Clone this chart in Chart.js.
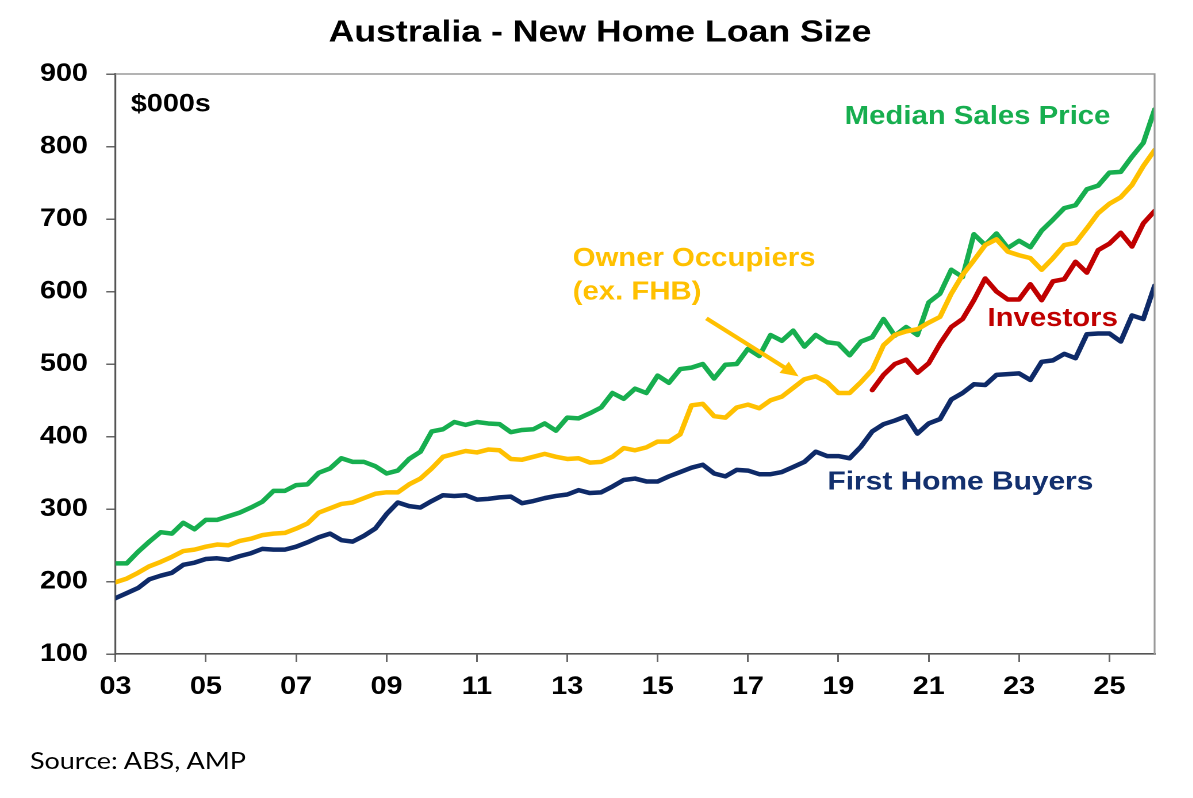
<!DOCTYPE html>
<html>
<head>
<meta charset="utf-8">
<script src="https://cdn.jsdelivr.net/npm/chart.js@4"></script>
<style>
  html, body { margin:0; padding:0; background:#fff; }
  #wrap { position:absolute; left:0; top:0; width:1037px; height:798px; transform:scaleX(1.15); transform-origin:0 0; }
  #source { position:absolute; left:26px; top:745px; font-family:Lato, "Open Sans", sans-serif; font-size:23.5px; color:#000; line-height:30px; }
</style>
</head>
<body>
<div id="wrap">
  <canvas id="c" width="1037" height="798"></canvas>
  <div id="source">Source: ABS, AMP</div>
</div>
<script>
// ---- Data (quarterly, first point = 2003 Q1) ----
const firstQuarter = 2003.0;
const medianSalesPrice = [225,225,241,255,268,266,281,272,285,285,
 290,295,302,310,325,325,333,334,350,356,
 370,365,365,359,349,353,369,379,407,410,
 420,416,420,418,417,406,409,410,418,408,
 426,425,432,440,460,452,466,460,484,474,
 493,495,500,480,499,500,521,511,540,532,
 546,524,540,530,528,512,531,537,562,539,
 551,540,585,597,630,620,679,664,680,660,
 670,661,684,699,715,719,741,746,764,765,
 786,805,851];
const ownerOccupiers = [199,204,212,221,227,234,242,244,248,251,
 250,256,259,264,266,267,273,280,295,301,
 307,309,315,321,323,323,334,342,356,372,
 376,380,378,382,381,369,368,372,376,372,
 369,370,364,365,372,384,381,385,393,393,
 403,443,445,428,426,440,444,439,450,455,
 467,479,483,475,460,460,475,492,526,540,
 545,548,557,565,597,623,643,664,672,655,
 650,646,630,646,664,667,687,708,721,730,
 747,773,795];
const firstHomeBuyers = [177,184,191,203,208,212,223,226,231,232,
 230,235,239,245,244,244,248,254,261,266,
 257,255,263,273,293,309,304,302,311,319,
 318,319,313,314,316,317,308,311,315,318,
 320,326,322,323,331,340,342,338,338,345,
 351,357,361,349,345,354,353,348,348,351,
 358,365,379,373,373,370,386,407,417,422,
 428,404,418,424,451,460,472,471,485,486,
 487,478,503,505,514,508,541,542,542,531,
 567,562,608];
const investorsFirstQuarter = 2019.75;
const investors = [464,485,500,506,488,501,528,551,562,588,618,600,589,589,610,588,614,617,641,626,657,666,681,662,694,711];

const xTickYears = [2003,2005,2007,2009,2011,2013,2015,2017,2019,2021,2023,2025];
const xTickLabels = ['03','05','07','09','11','13','15','17','19','21','23','25'];
const yTicks = [100,200,300,400,500,600,700,800,900];

const chartTitle = 'Australia - New Home Loan Size';

// ---- Build points through quarter positions ----
const toPoints = (arr, start) => arr.map((v, i) => ({ x: start + i / 4, y: v }));

const COL = { green:'#17AE4F', yellow:'#FFC000', red:'#C00000', navy:'#0E2A68' };
const FONT = '"Liberation Sans", Arial, sans-serif';

const notes = [
  { text:'$000s', x:2003.34, y:858, color:'#000', size:25 },
  { text:'Median Sales Price', x:2019.14, y:841, color:COL.green, size:25.5 },
  { text:'Owner Occupiers', x:2013.12, y:645, color:COL.yellow, size:25.5 },
  { text:'(ex. FHB)', x:2013.12, y:599, color:COL.yellow, size:25.5 },
  { text:'Investors', x:2022.30, y:562, color:COL.red, size:25.5 },
  { text:'First Home Buyers', x:2018.76, y:337, color:'#13306E', size:26 }
];
const arrow = { x1:2016.08, y1:563, x2:2018.12, y2:483, color:COL.yellow };

const decor = {
  id:'decor',
  afterDatasetsDraw(chart){
    const { ctx, chartArea:a, scales:{ x, y } } = chart;
    ctx.save();
    // title
    ctx.font = 'bold 31px ' + FONT;
    ctx.fillStyle = '#000'; ctx.textAlign = 'center'; ctx.textBaseline = 'middle';
    ctx.fillText(chartTitle, 521.7, 33);
    // top & right frame
    ctx.strokeStyle = '#9a9a9a'; ctx.lineWidth = 1.6;
    ctx.beginPath(); ctx.moveTo(a.left, a.top); ctx.lineTo(a.right, a.top); ctx.lineTo(a.right, a.bottom); ctx.stroke();
    ctx.textAlign = 'left'; ctx.textBaseline = 'middle';
    notes.forEach(n => {
      ctx.font = 'bold ' + n.size + 'px ' + FONT;
      ctx.fillStyle = n.color;
      ctx.fillText(n.text, x.getPixelForValue(n.x), y.getPixelForValue(n.y));
    });
    // arrow
    const x1 = x.getPixelForValue(arrow.x1), y1 = y.getPixelForValue(arrow.y1);
    const x2 = x.getPixelForValue(arrow.x2), y2 = y.getPixelForValue(arrow.y2);
    const ang = Math.atan2(y2 - y1, x2 - x1);
    const head = 17;
    ctx.strokeStyle = arrow.color; ctx.fillStyle = arrow.color; ctx.lineWidth = 4;
    ctx.beginPath(); ctx.moveTo(x1, y1);
    ctx.lineTo(x2 - Math.cos(ang) * head * 0.8, y2 - Math.sin(ang) * head * 0.8); ctx.stroke();
    ctx.beginPath(); ctx.moveTo(x2, y2);
    ctx.lineTo(x2 - head * Math.cos(ang - 0.42), y2 - head * Math.sin(ang - 0.42));
    ctx.lineTo(x2 - head * Math.cos(ang + 0.42), y2 - head * Math.sin(ang + 0.42));
    ctx.closePath(); ctx.fill();
    ctx.restore();
  }
};

const lineDs = (label, data, color) => ({
  label, data, borderColor: color, backgroundColor: color,
  borderWidth: 4.5, pointRadius: 0, tension: 0, fill: false, spanGaps: false,
  borderJoinStyle: 'round', borderCapStyle: 'round'
});

new Chart(document.getElementById('c'), {
  type: 'line',
  data: {
    datasets: [
      lineDs('First Home Buyers', toPoints(firstHomeBuyers, firstQuarter), COL.navy),
      lineDs('Investors', toPoints(investors, investorsFirstQuarter), COL.red),
      lineDs('Owner Occupiers (ex. FHB)', toPoints(ownerOccupiers, firstQuarter), COL.yellow),
      lineDs('Median Sales Price', toPoints(medianSalesPrice, firstQuarter), COL.green)
    ]
  },
  options: {
    responsive: false,
    animation: false,
    devicePixelRatio: 2,
    layout: { padding: { left: 0, right: 33, top: 74, bottom: 0 } },
    plugins: {
      legend: { display: false },
      tooltip: { enabled: false },
      title: { display: false, text: chartTitle }
    },
    scales: {
      x: {
        type: 'linear', min: 2003, max: 2026,
        afterBuildTicks: s => { s.ticks = xTickYears.map(v => ({ value: v })); },
        afterFit: s => { s.height = 144; },
        ticks: {
          autoSkip: false, maxRotation: 0, padding: 10, color: '#000',
          font: { family: FONT, size: 25, weight: 'bold' },
          callback: v => { const i = xTickYears.indexOf(v); return i >= 0 ? xTickLabels[i] : ''; }
        },
        grid: { drawOnChartArea: false, drawTicks: true, tickLength: 8, color: '#666', lineWidth: 1.5 },
        border: { display: true, color: '#555', width: 1.6 }
      },
      y: {
        min: 100, max: 900,
        afterBuildTicks: s => { s.ticks = yTicks.map(v => ({ value: v })); },
        afterFit: s => { s.width = 100.4; },
        ticks: {
          padding: 16, color: '#000',
          font: { family: FONT, size: 25, weight: 'bold' }
        },
        grid: { drawOnChartArea: false, drawTicks: true, tickLength: 8, color: '#666', lineWidth: 1.5 },
        border: { display: true, color: '#555', width: 1.6 }
      }
    }
  },
  plugins: [decor]
});
</script>
</body>
</html>
